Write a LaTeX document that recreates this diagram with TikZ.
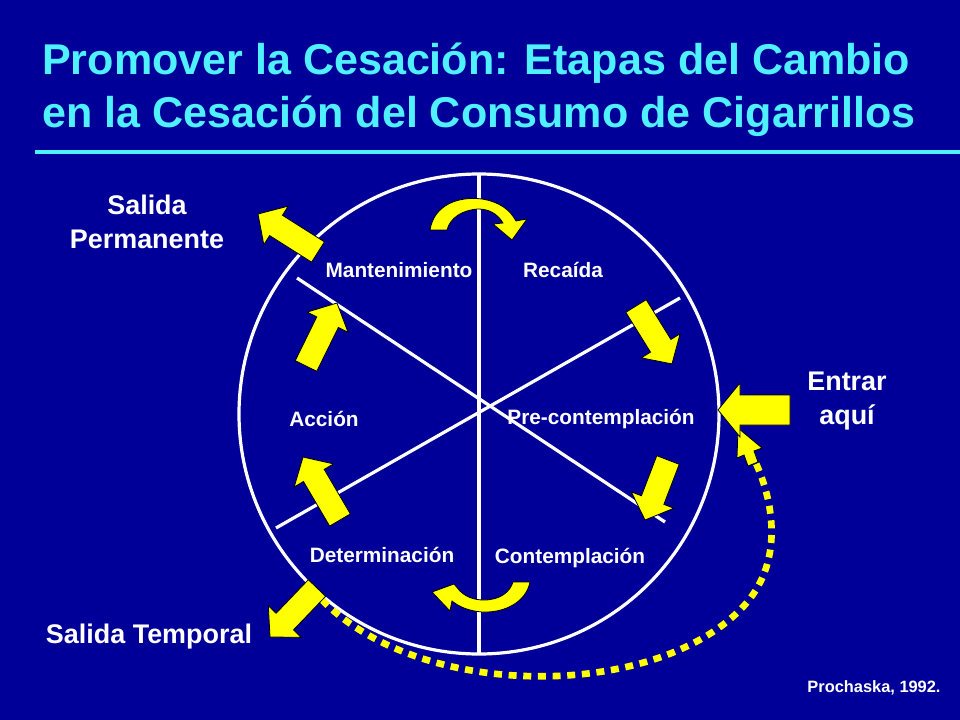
\documentclass[tikz,border=0pt]{standalone}
\usepackage{fontspec}
\setmainfont{Liberation Sans}
\definecolor{bg}{HTML}{000099}
\definecolor{ttl}{HTML}{4FF0FF}
\definecolor{yel}{HTML}{FFFF00}
\tikzset{
  lab/.style={text=white,font=\bfseries\fontsize{15.6}{18}\selectfont,inner sep=0pt},
  side/.style={text=white,font=\bfseries\fontsize{20.2}{25}\selectfont,align=center,inner sep=0pt},
  barrow/.style={fill=yel,draw=black,line width=0.6pt,line join=miter},
  wline/.style={white,line width=2.4pt}
}
\newcommand{\blockarr}[3]{% tail, tip
  \path let \p1=(#1),\p2=(#2),\n1={atan2(\y2-\y1,\x2-\x1)},\n2={veclen(\x2-\x1,\y2-\y1)} in
  [shift={(#1)},rotate=\n1] \pgfextra{\xdef\barang{\n1}\xdef\barlen{\n2}};
  \begin{scope}[shift={(#1)},rotate=\barang,x=1pt,y=1pt]
  \draw[barrow] (0,-#3) -- (\barlen-16,-#3) -- (\barlen-16,-1.9*#3) -- (\barlen,0) -- (\barlen-16,1.9*#3) -- (\barlen-16,#3) -- (0,#3) -- cycle;
  \end{scope}}
\usetikzlibrary{calc}
\begin{document}
\begin{tikzpicture}[x=0.75pt,y=-0.75pt]
\fill[bg] (0,0) rectangle (960,720);
\useasboundingbox (0,0) rectangle (960,720);
\node[anchor=west,text=ttl,font=\bfseries\fontsize{32.3}{40}\selectfont,align=left,inner sep=0pt] (title) at (42,90) {Promover la Cesación: Etapas del Cambio\\en la Cesación del Consumo de Cigarrillos};
\draw[ttl,line width=3pt] (35,152) -- (960,152);
\coordinate (c) at (479,414);
\draw[wline] (c) circle [radius=240];
\coordinate (v1) at (479,174); \coordinate (v2) at (479,654);
\coordinate (a1) at (297,278); \coordinate (a2) at (665,522);
\coordinate (b1) at (680,298); \coordinate (b2) at (276,528);
\draw[wline] (v1) -- (v2); \draw[wline] (a1) -- (a2); \draw[wline] (b1) -- (b2);
\node[lab] (mant) at (399,270) {Mantenimiento};
\node[lab] (rec) at (563,270) {Recaída};
\node[lab] (acc) at (324,419) {Acción};
\node[lab] (pre) at (601,419) {Pre-contemplación};
\node[lab] (det) at (382,555) {Determinación};
\node[lab] (con) at (570,558) {Contemplación};
\node[side] (sp) at (147,222) {Salida\\Permanente};
\node[side] (st) at (149,637) {Salida Temporal};
\node[side] (en) at (847,401) {Entrar\\aquí};
\node[text=white,font=\bfseries\fontsize{12.3}{14}\selectfont,inner sep=0pt] (pr) at (874,688) {Prochaska, 1992.};
% dotted return path
\coordinate (d1) at (322,600); \coordinate (d2) at (745,436);
\draw[yel,line width=5pt,dash pattern=on 6pt off 5pt] (d1) .. controls (420,700) and (650,700) .. (740,610) .. controls (790,560) and (770,490) .. (752,455);
\draw[barrow] (738,428) -- (762,448) -- (754,451) -- (758,462) -- (748,466) -- (744,455) -- (737,458) -- cycle;
% straight arrows
\coordinate (s1) at (318,252); \coordinate (s2) at (258,214); \blockarr{s1}{s2}{9}
\coordinate (m1) at (306,366); \coordinate (m2) at (337,303); \blockarr{m1}{m2}{9}
\coordinate (k1) at (340,520); \coordinate (k2) at (303,457); \blockarr{k1}{k2}{9}
\coordinate (r1) at (636,306); \coordinate (r2) at (672,364); \blockarr{r1}{r2}{9}
\coordinate (p1) at (668,460); \coordinate (p2) at (645,520); \blockarr{p1}{p2}{9}
\coordinate (t1) at (317,588); \coordinate (t2) at (270,637); \blockarr{t1}{t2}{9}
\draw[barrow] (790,395) -- (740,395) -- (740,383) -- (718,410) -- (740,437) -- (740,425) -- (790,425) -- cycle;
% curved arrows
\draw[barrow] (430,230) .. controls (434,205) and (458,196) .. (482,199) .. controls (500,202) and (510,210) .. (516,221)
  -- (527,219) -- (512,240) -- (493,224) -- (503,223) .. controls (497,213) and (488,209) .. (478,209) .. controls (462,210) and (450,218) .. (447,230) -- cycle;
\draw[barrow] (530,582) .. controls (526,602) and (505,613) .. (482,612) .. controls (468,611) and (458,606) .. (452,601)
  -- (450,611) -- (432,592) -- (454,584) -- (460,591) .. controls (466,597) and (474,600) .. (484,600) .. controls (500,600) and (510,592) .. (513,582) -- cycle;
\end{tikzpicture}
\end{document}
